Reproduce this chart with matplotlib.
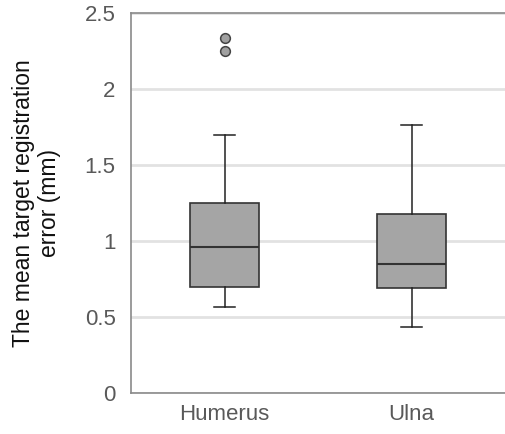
import matplotlib
matplotlib.use("Agg")
import matplotlib.pyplot as plt

plt.rcParams['font.family'] = ['Liberation Sans', 'DejaVu Sans']

# box plot summary
bones = ["Humerus", "Ulna"]
whisker_low = [0.565, 0.435]
q1 = [0.70, 0.69]
median = [0.96, 0.85]
q3 = [1.25, 1.18]
whisker_high = [1.70, 1.76]
outliers = [[2.25, 2.335], []]

stats = []
for i in range(len(bones)):
    stats.append({"label": bones[i], "whislo": whisker_low[i], "q1": q1[i],
                  "med": median[i], "q3": q3[i], "whishi": whisker_high[i],
                  "fliers": outliers[i]})

fig = plt.figure(figsize=(5.05, 4.34), dpi=100)
ax = fig.add_axes([131 / 505, 41 / 434, 374 / 505, 380 / 434])

ax.bxp(stats, positions=[1, 2], widths=0.365, patch_artist=True,
       boxprops=dict(facecolor="#a5a5a5", edgecolor="#333333", linewidth=1.2),
       medianprops=dict(color="#333333", linewidth=1.5),
       whiskerprops=dict(color="#222222", linewidth=1.1),
       capprops=dict(color="#222222", linewidth=1.1),
       capwidths=0.115,
       flierprops=dict(marker="o", markerfacecolor="#a0a0a0",
                       markeredgecolor="#444444", markersize=7, markeredgewidth=1.1))

ax.set_xlim(0.5, 2.5)
ax.set_ylim(0, 2.5)
ax.set_yticks([0, 0.5, 1, 1.5, 2, 2.5])
ax.set_yticklabels(["0", "0.5", "1", "1.5", "2", "2.5"])
ax.yaxis.grid(True, color="#e2e2e2", linewidth=2)
ax.set_axisbelow(True)
ax.tick_params(length=0, labelsize=16, colors="#595959")
ax.tick_params(axis="y", pad=11)
ax.tick_params(axis="x", pad=8)
for s in ax.spines.values():
    s.set_color("#8a8a8a")
    s.set_linewidth(1.2)
ax.spines["right"].set_visible(False)

ax.set_ylabel("The mean target registration\nerror (mm)", fontsize=16.5, color="#111111",
              labelpad=17, linespacing=1.2)

fig.savefig("out.png", dpi=100)
